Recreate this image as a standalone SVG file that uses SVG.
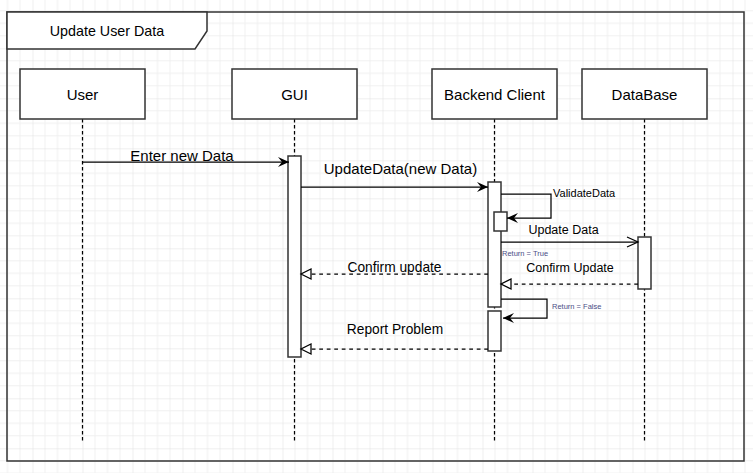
<svg xmlns="http://www.w3.org/2000/svg" width="753" height="473" viewBox="0 0 753 473">
<defs>
<pattern id="grid" x="32.5" y="48.3" width="50" height="50" patternUnits="userSpaceOnUse">
<rect x="0" y="0" width="50" height="50" fill="#ffffff"/>
<path d="M12.5,0V50M25,0V50M37.5,0V50M0,12.5H50M0,25H50M0,37.5H50" stroke="#f0f0f0" stroke-width="1" fill="none"/>
<path d="M0,0V50M0,0H50" stroke="#e0e0e0" stroke-width="1" fill="none"/>
</pattern>
<marker id="classic" viewBox="-12 -6 13 12" refX="0" refY="0" markerWidth="13" markerHeight="12" orient="auto" markerUnits="userSpaceOnUse">
<path d="M0,0 L-11,-5 L-7,0 L-11,5 Z" fill="#000"/>
</marker>
<marker id="open" viewBox="-13 -7 15 14" refX="0" refY="0" markerWidth="15" markerHeight="14" orient="auto" markerUnits="userSpaceOnUse">
<path d="M-11,-5 L0,0 L-11,5" fill="none" stroke="#000" stroke-width="1.25"/>
</marker>
<marker id="tri" viewBox="-12 -7 14 14" refX="0" refY="0" markerWidth="14" markerHeight="14" orient="auto" markerUnits="userSpaceOnUse">
<path d="M-10,-5 L0,0 L-10,5 Z" fill="#fff" stroke="#000" stroke-width="1.25"/>
</marker>
</defs>
<style>
text{font-family:"Liberation Sans",Arial,sans-serif;fill:#000}
.box{fill:#fff;stroke:#333;stroke-width:1.5}
.act{fill:#fff;stroke:#333;stroke-width:1.5}
.life{stroke:#000;stroke-width:1.25;stroke-dasharray:3.5 2.5;fill:none}
.msg{stroke:#000;stroke-width:1.25;fill:none}
.ret{stroke:#000;stroke-width:1.25;fill:none;stroke-dasharray:3.75 3.75}
.lbl{font-size:15px;text-anchor:middle}
.m15{font-size:15px;text-anchor:middle}
.m14{font-size:13.75px;text-anchor:middle}
.m12{font-size:12.5px;text-anchor:middle}
.tiny{font-size:7.5px;fill:#4b4f86}
</style>
<rect x="0" y="0" width="753" height="473" fill="url(#grid)"/>
<g id="frame">
<rect x="7" y="12" width="737" height="449" fill="none" stroke="#333" stroke-width="1.5"/>
<path d="M7,12 H207 V31 L195,49 H7 Z" fill="#fff" stroke="#333" stroke-width="1.5"/>
<text x="107" y="35.5" style="font-size:14.3px;text-anchor:middle">Update User Data</text>
</g>
<g id="lifelines">
<path class="life" d="M82.5,119V443M294.5,119V443M494.5,119V443M644.5,119V443"/>
</g>
<g id="user">
<rect class="box" x="20" y="69" width="125" height="50"/>
<text class="lbl" x="82.5" y="99.5">User</text>
</g>
<g id="gui">
<rect class="box" x="232" y="69" width="125" height="50"/>
<text class="lbl" x="294.5" y="99.5">GUI</text>
<rect class="act" x="288" y="156" width="13" height="201"/>
</g>
<g id="backend">
<rect class="box" x="432" y="69" width="125" height="50"/>
<text class="lbl" x="494.5" y="99.5">Backend Client</text>
<rect class="act" x="488" y="182" width="13" height="125"/>
<rect class="act" x="494" y="212" width="13" height="19"/>
<rect class="act" x="488" y="311" width="13" height="40"/>
</g>
<g id="database">
<rect class="box" x="582" y="69" width="125" height="50"/>
<text class="lbl" x="644.5" y="99.5">DataBase</text>
<rect class="act" x="638" y="237" width="13" height="52"/>
</g>
<g id="connectors">
<path class="msg" d="M82.5,162 H289" marker-end="url(#classic)"/>
<text class="m15" x="182" y="161">Enter new Data</text>
<path class="msg" d="M301,187 H488" marker-end="url(#classic)"/>
<text class="m15" x="400.5" y="173.5">UpdateData(new Data)</text>
<path class="msg" d="M501,194 H551 V218 H507" marker-end="url(#classic)"/>
<text x="553" y="197" style="font-size:11px">ValidateData</text>
<path class="msg" d="M501,242 H638" marker-end="url(#open)"/>
<text class="m12" x="563.5" y="234">Update Data</text>
<text class="tiny" x="502" y="256">Return = True</text>
<path class="ret" d="M638,284 H501" marker-end="url(#tri)"/>
<text class="m12" x="570" y="272">Confirm Update</text>
<path class="ret" d="M488,274 H301" marker-end="url(#tri)"/>
<text class="m14" x="394.5" y="271.5">Confirm update</text>
<path class="msg" d="M501,299 H547 V318 H503" marker-end="url(#classic)"/>
<text class="tiny" x="552" y="308.5">Return = False</text>
<path class="ret" d="M488,349 H301" marker-end="url(#tri)"/>
<text class="m14" x="395" y="334">Report Problem</text>
</g>
</svg>
